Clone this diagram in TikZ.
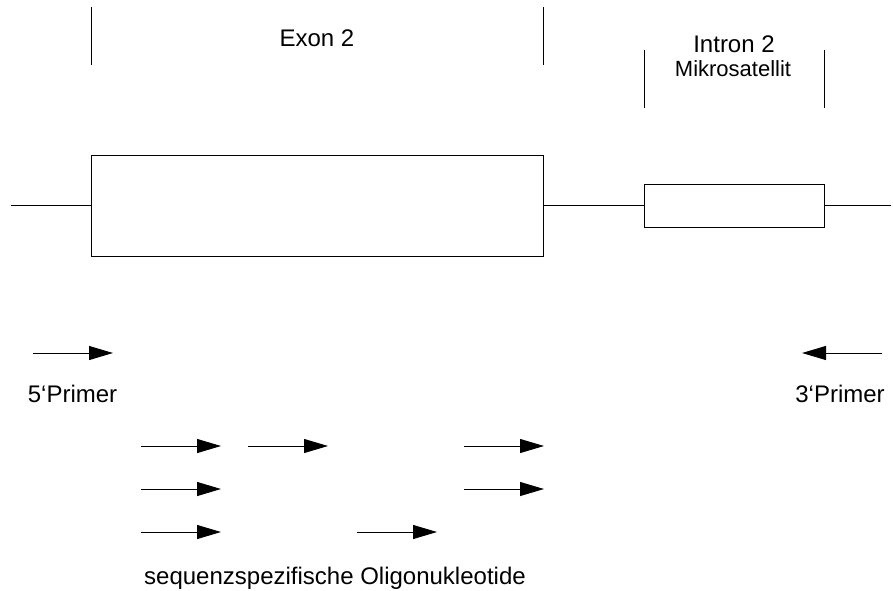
\documentclass[tikz,border=0pt]{standalone}
\usepackage{fontspec}
\setmainfont{Liberation Sans}
\usetikzlibrary{arrows.meta}

\begin{document}
\begin{tikzpicture}[x=1pt,y=-1pt,>={Triangle[length=24pt,width=14pt]},line width=1pt,
  lbl/.style={anchor=base,font=\fontsize{24}{28}\selectfont},
  sublbl/.style={anchor=base,font=\fontsize{22}{26}\selectfont},
  genebox/.style={draw,rectangle,inner sep=0pt,outer sep=0pt}]
\useasboundingbox (0,0) rectangle (893,590);
% gene
\node[genebox,minimum width=452pt,minimum height=101pt] (exon) at (317,205.5) {};
\node[genebox,minimum width=180pt,minimum height=43pt] (intron) at (734,205.5) {};
\coordinate (lend) at (11,205.5);
\coordinate (rend) at (891,205.5);
\draw (lend) -- (exon.west);
\draw (exon.east) -- (intron.west);
\draw (intron.east) -- (rend);
% region marks
\draw (91,7) -- (91,65);
\draw (543,7) -- (543,65);
\draw (644,50) -- (644,108);
\draw (824,50) -- (824,108);
\node[lbl] (exonlbl) at (317,46) {Exon 2};
\node[lbl] (intronlbl) at (734,52) {Intron 2};
\node[sublbl] (msat) at (733,76) {Mikrosatellit};
% primers
\draw[->] (33,353) -- (113,353);
\draw[->] (882,353) -- (802,353);
\node[lbl] (p5) at (72.5,402) {5‘Primer};
\node[lbl] (p3) at (840,402) {3‘Primer};
% oligonucleotides
\draw[->] (141,446) -- (221,446);
\draw[->] (248,446) -- (328,446);
\draw[->] (464,446) -- (544,446);
\draw[->] (141,489) -- (221,489);
\draw[->] (464,489) -- (544,489);
\draw[->] (141,532) -- (221,532);
\draw[->] (357,532) -- (437,532);
\node[lbl] (oligo) at (335,584) {sequenzspezifische Oligonukleotide};
\end{tikzpicture}
\end{document}
